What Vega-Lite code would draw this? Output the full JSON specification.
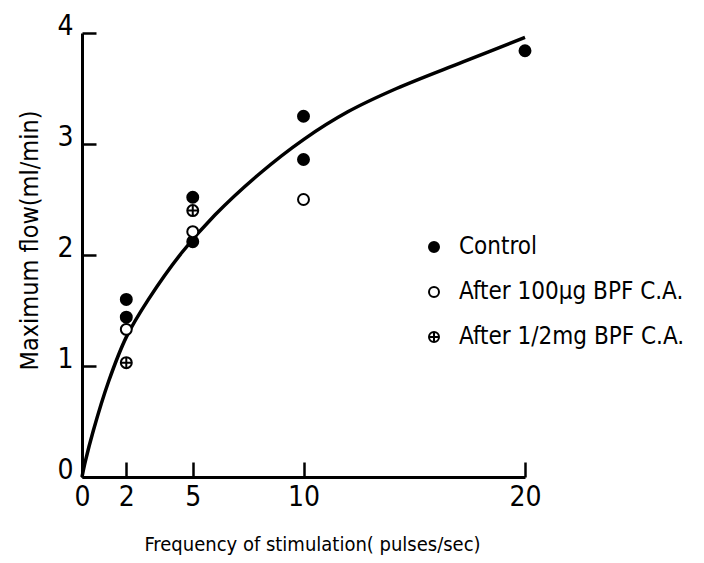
{
  "$schema": "https://vega.github.io/schema/vega-lite/v6.json",
  "width": 443,
  "height": 444,
  "autosize": "none",
  "padding": {"left": 82, "top": 33, "right": 179, "bottom": 86},
  "background": "white",
  "config": {
    "view": {"stroke": null},
    "font": "DejaVu Sans Condensed, Roboto",
    "axis": {"grid": false, "domainColor": "black", "tickColor": "black", "labelColor": "black", "titleColor": "black", "domainWidth": 3, "tickWidth": 2.5, "labelFont": "DejaVu Sans Condensed, Roboto", "titleFont": "DejaVu Sans Condensed, Roboto", "titleFontWeight": "normal", "labelFlush": false},
    "legend": {"labelFont": "DejaVu Sans Condensed, Roboto"}
  },
  "datasets": {
    "curve": [
      {"f": 0, "flow": 0},
      {"f": 0.15, "flow": 0.14},
      {"f": 0.5, "flow": 0.41},
      {"f": 1.2, "flow": 0.86},
      {"f": 2, "flow": 1.26},
      {"f": 3, "flow": 1.6},
      {"f": 4.5, "flow": 2.02},
      {"f": 6, "flow": 2.36},
      {"f": 8, "flow": 2.73},
      {"f": 10, "flow": 3.04},
      {"f": 12, "flow": 3.29},
      {"f": 14.2, "flow": 3.5},
      {"f": 17.2, "flow": 3.74},
      {"f": 20, "flow": 3.96}
    ],
    "points": [
      {"f": 2, "flow": 1.6, "series": "Control"},
      {"f": 2, "flow": 1.44, "series": "Control"},
      {"f": 5, "flow": 2.52, "series": "Control"},
      {"f": 5, "flow": 2.12, "series": "Control"},
      {"f": 10, "flow": 3.25, "series": "Control"},
      {"f": 10, "flow": 2.86, "series": "Control"},
      {"f": 20, "flow": 3.84, "series": "Control"},
      {"f": 2, "flow": 1.33, "series": "After 100µg BPF C.A."},
      {"f": 5, "flow": 2.21, "series": "After 100µg BPF C.A."},
      {"f": 10, "flow": 2.5, "series": "After 100µg BPF C.A."},
      {"f": 2, "flow": 1.03, "series": "After 1/2mg BPF C.A."},
      {"f": 5, "flow": 2.4, "series": "After 1/2mg BPF C.A."}
    ]
  },
  "layer": [
    {
      "data": {"name": "curve"},
      "mark": {"type": "line", "color": "black", "strokeWidth": 3.5, "interpolate": "catmull-rom"},
      "encoding": {
        "x": {"field": "f", "type": "quantitative", "scale": {"domain": [0, 20], "nice": false},
          "axis": {"values": [0, 2, 5, 10, 20], "format": "d", "tickSize": -15, "labelPadding": 21, "labelFontSize": 28, "title": "Frequency of stimulation( pulses/sec)", "titleFontSize": 20, "titlePadding": 23, "titleX": 230}},
        "y": {"field": "flow", "type": "quantitative", "scale": {"domain": [0, 4], "nice": false},
          "axis": {"values": [0, 1, 2, 3, 4], "format": "d", "tickSize": -14, "labelPadding": 23, "labelFontSize": 28, "labelBaseline": "alphabetic", "labelOffset": 1, "title": "Maximum flow(ml/min)", "titleFontSize": 25, "titlePadding": 14, "titleY": 207}}
      }
    },
    {
      "data": {"name": "points"},
      "mark": {"type": "point", "stroke": "black", "strokeWidth": 2, "size": 120, "opacity": 1},
      "encoding": {
        "x": {"field": "f", "type": "quantitative"},
        "y": {"field": "flow", "type": "quantitative"},
        "shape": {"field": "series", "type": "nominal", "title": null,
          "scale": {"domain": ["Control", "After 100µg BPF C.A.", "After 1/2mg BPF C.A."], "range": ["circle", "circle", "M-1,0A1,1 0 1,1 1,0A1,1 0 1,1 -1,0ZM-1,0L1,0M0,-1L0,1"]}},
        "fill": {"field": "series", "type": "nominal", "title": null,
          "scale": {"domain": ["Control", "After 100µg BPF C.A.", "After 1/2mg BPF C.A."], "range": ["black", "white", "white"]},
          "legend": {"orient": "none", "legendX": 340, "legendY": 202, "labelFontSize": 24, "labelLimit": 400, "symbolSize": 100, "symbolStrokeColor": "black", "symbolStrokeWidth": 2, "rowPadding": 21, "labelOffset": 13, "labelColor": "black"}}
      }
    }
  ]
}
